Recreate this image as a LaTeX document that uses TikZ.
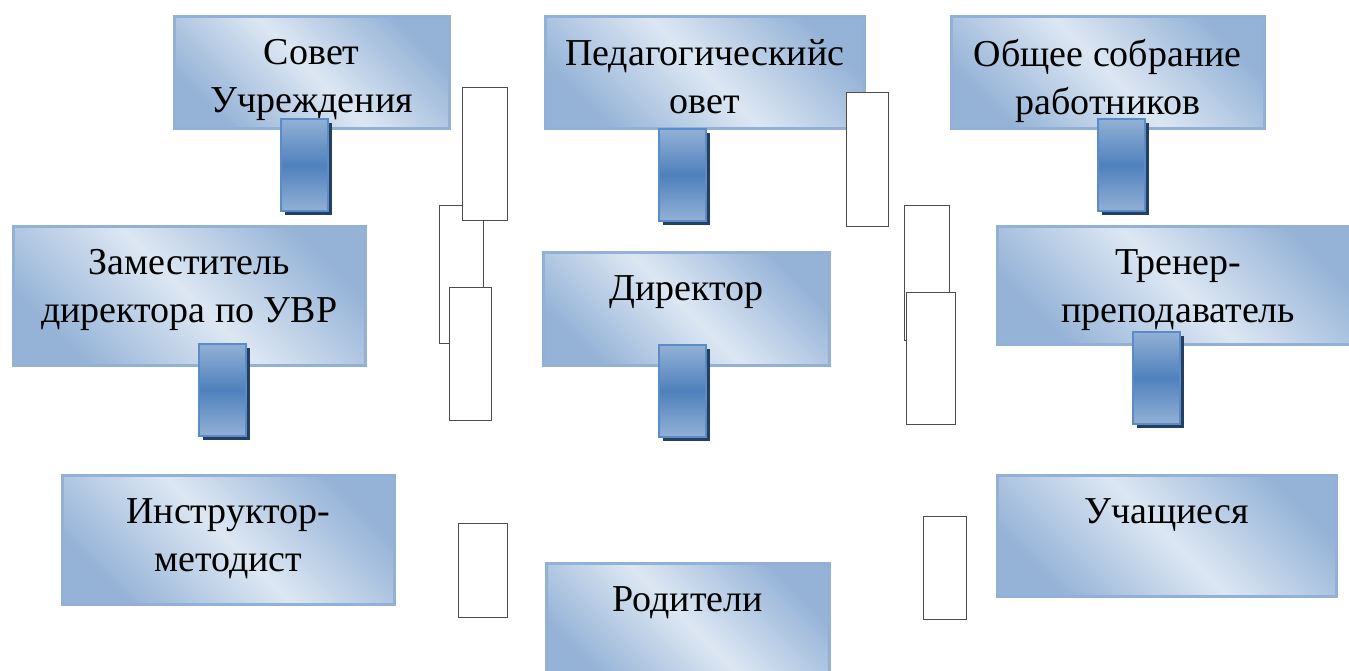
\documentclass[tikz,border=0pt]{standalone}
\usepackage{fontspec}
\setmainfont{Liberation Serif}
\usetikzlibrary{shadows}

\definecolor{boxdark}{RGB}{149,179,215}
\definecolor{boxlight}{RGB}{221,231,243}
\definecolor{boxedge}{RGB}{147,177,214}
\definecolor{barlight}{RGB}{146,176,214}
\definecolor{barmid}{RGB}{79,129,189}
\definecolor{baredge}{RGB}{92,140,200}
\definecolor{barshadow}{RGB}{36,64,97}

\pgfdeclarehorizontalshading{boxshading}{100bp}{color(0bp)=(boxdark); color(25bp)=(boxdark); color(50bp)=(boxlight); color(75bp)=(boxdark); color(100bp)=(boxdark)}
\pgfdeclareverticalshading{barshading}{100bp}{color(0bp)=(barlight); color(25bp)=(barlight); color(50bp)=(barmid); color(75bp)=(barlight); color(100bp)=(barlight)}

\newcommand\boxfont{\fontsize{38}{48.5}\selectfont}

\begin{document}
\begin{tikzpicture}[x=1pt, y=-1pt,
    unitbox/.style={draw=boxedge, line width=2.5pt, shading=boxshading, shading angle=45, inner sep=0pt, anchor=north west},
    unittext/.style={anchor=north, yshift=-24pt, align=center, inner sep=0pt, font=\boxfont},
    linkbar/.style={draw=baredge, line width=2pt, shading=barshading, inner sep=0pt, anchor=north west, minimum width=47pt, minimum height=92pt, drop shadow={shadow xshift=4pt, shadow yshift=-4pt, fill=barshadow, opacity=1}},
    blank/.style={draw=black!70, fill=white, line width=0.8pt, inner sep=0pt, anchor=north west}]
            \clip (0,0) rectangle (1349,670);
            \fill[white] (0,0) rectangle (1349,670);

            \node[unitbox, minimum width=275pt, minimum height=112pt, label={[unittext]north:{Совет\\Учреждения}}] (sovet) at (173,15) {};
            \node[unitbox, minimum width=319pt, minimum height=112pt, label={[unittext]north:{Педагогическийс\\овет}}] (pedsovet) at (544,15) {};
            \node[unitbox, minimum width=313pt, minimum height=112pt, label={[unittext]north:{Общее собрание\\работников}}] (sobranie) at (950,15) {};
            \node[unitbox, minimum width=352pt, minimum height=139pt, label={[unittext]north:{Заместитель\\директора по УВР}}] (zam) at (12,225) {};
            \node[unitbox, minimum width=286pt, minimum height=113pt, label={[unittext]north:{Директор}}] (direktor) at (542,251) {};
            \node[unitbox, minimum width=362pt, minimum height=118pt, label={[unittext]north:{Тренер-\\преподаватель}}] (trener) at (996,225) {};
            \node[unitbox, minimum width=332pt, minimum height=129pt, label={[unittext]north:{Инструктор-\\методист}}] (instruktor) at (61,474) {};
            \node[unitbox, minimum width=283pt, minimum height=118pt, label={[unittext]north:{Родители}}] (roditeli) at (545,562) {};
            \node[unitbox, minimum width=339pt, minimum height=121pt, label={[unittext]north:{Учащиеся}}] (uchashchiesya) at (996,474) {};

            \node[linkbar] (sovetbar) at (280,118) {};
            \node[linkbar] (pedsovetbar) at (658,128) {};
            \node[linkbar] (sobraniebar) at (1097,118) {};
            \node[linkbar] (zambar) at (198,343) {};
            \node[linkbar] (direktorbar) at (658,344) {};
            \node[linkbar] (trenerbar) at (1132,331) {};

            \node[blank, minimum width=44pt, minimum height=138pt] (blankB) at (439,205) {};
            \node[blank, minimum width=45pt, minimum height=133pt] (blankA) at (462,87) {};
            \node[blank, minimum width=42pt, minimum height=133pt] (blankC) at (449,287) {};
            \node[blank, minimum width=42pt, minimum height=134pt] (blankD) at (846,92) {};
            \node[blank, minimum width=45pt, minimum height=135pt] (blankE) at (904,205) {};
            \node[blank, minimum width=49pt, minimum height=132pt] (blankF) at (906,292) {};
            \node[blank, minimum width=49pt, minimum height=94pt] (blankG) at (458,523) {};
            \node[blank, minimum width=43pt, minimum height=103pt] (blankH) at (923,516) {};

        \end{tikzpicture}
\end{document}
